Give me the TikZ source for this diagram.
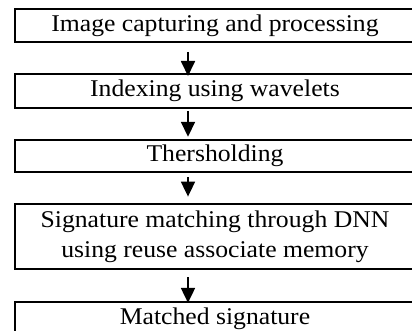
\documentclass[tikz,border=0pt]{standalone}
\usepackage{fontspec}
\setmainfont[FakeStretch=1.07]{Liberation Serif}
\usetikzlibrary{arrows.meta}
\tikzset{
  stagebox/.style={draw, line width=1pt, minimum width=200.5pt, inner sep=0pt,
    align=center, font=\fontsize{12pt}{15pt}\selectfont},
  flowarrow/.style={line width=0.9pt, -{Triangle[width=7pt,length=7.5pt]}}
}
\begin{document}
\begin{tikzpicture}[x=0.5pt, y=-0.5pt]
  \useasboundingbox (0,0) rectangle (412,331);
  \node[stagebox, minimum height=16.5pt] (capture) at (215,25.5) {Image capturing and processing};
  \node[stagebox, minimum height=17pt] (index) at (215,91) {Indexing using wavelets};
  \node[stagebox, minimum height=16pt] (thresh) at (215,156) {Thersholding};
  \node[stagebox, minimum height=32.5pt] (match) at (215,236.5) {Signature matching through DNN\\using reuse associate memory};
  \node[stagebox, minimum height=17pt] (result) at (215,318.5) {Matched signature};
  \coordinate (ax) at (188,0);
  \draw[flowarrow, shorten <=4.5pt, shorten >=-1.5pt] (capture.south -| ax) -- (index.north -| ax);
  \draw[flowarrow, shorten <=1pt, shorten >=1.1pt] (index.south -| ax) -- (thresh.north -| ax);
  \draw[flowarrow, shorten <=2pt, shorten >=3.2pt] (thresh.south -| ax) -- (match.north -| ax);
  \draw[flowarrow, shorten <=3.5pt, shorten >=-1.2pt] (match.south -| ax) -- (result.north -| ax);
\end{tikzpicture}
\end{document}
